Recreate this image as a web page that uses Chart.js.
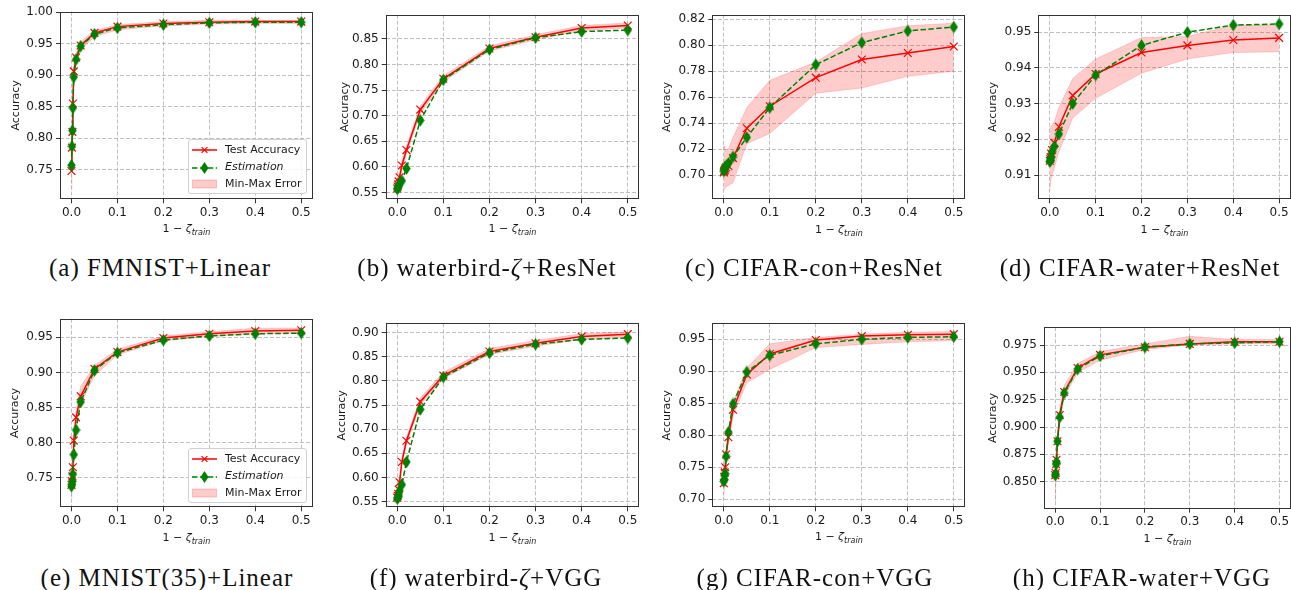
<!DOCTYPE html>
<html>
<head>
<meta charset="utf-8">
<script src="https://cdn.jsdelivr.net/npm/chart.js@4/dist/chart.umd.min.js"></script>
<style>
  html, body { margin: 0; padding: 0; background: #fff; }
  body { width: 1291px; height: 590px; position: relative; overflow: hidden; font-family: "DejaVu Sans", sans-serif; }
  canvas { position: absolute; }
  .xlab { position: absolute; font-size: 11px; line-height: 13px; color: #1a1a1a; white-space: nowrap; transform: translate(-50%, -50%); }
  .xlab i { font-style: italic; }
  .xlab sub { font-size: 8px; font-style: italic; vertical-align: -3px; }
  .cap { position: absolute; font-family: "Liberation Serif", serif; font-size: 25px; line-height: 26px; letter-spacing: 1px; color: #111; white-space: nowrap; transform: translate(-50%, -50%); }
  .legend { position: absolute; width: 117px; height: 53px; background: rgba(255,255,255,0.85); border: 1px solid #d0d0d0; border-radius: 3px; font-size: 11px; color: #1a1a1a; }
  .legend .row { position: absolute; left: 3px; height: 14px; line-height: 14px; white-space: nowrap; }
  .legend svg { position: absolute; left: 0; top: 1px; }
  .legend span { position: absolute; left: 33px; top: 0; }
</style>
</head>
<body>
<script>
// 1 - zeta_train sample points (shared by all panels)
const zeta = [0, 0.001, 0.002, 0.003, 0.005, 0.01, 0.02, 0.05, 0.1, 0.2, 0.3, 0.4, 0.5];
const xTicks = [0, 0.1, 0.2, 0.3, 0.4, 0.5];

// (a) FMNIST + Linear
const fmnistLinTest = [0.748, 0.785, 0.810, 0.855, 0.906, 0.928, 0.947, 0.967, 0.977, 0.982, 0.984, 0.985, 0.985];
const fmnistLinEst  = [0.757, 0.787, 0.812, 0.848, 0.897, 0.925, 0.946, 0.965, 0.975, 0.980, 0.983, 0.984, 0.984];
const fmnistLinMin  = [0.718, 0.775, 0.800, 0.840, 0.890, 0.918, 0.940, 0.961, 0.972, 0.978, 0.981, 0.982, 0.982];
const fmnistLinMax  = [0.760, 0.795, 0.820, 0.862, 0.913, 0.934, 0.953, 0.971, 0.980, 0.985, 0.987, 0.987, 0.987];
const fmnistLinTicks = [0.75, 0.80, 0.85, 0.90, 0.95, 1.00];

// (b) waterbird-zeta + ResNet
const wbResTest = [0.558, 0.562, 0.566, 0.572, 0.580, 0.603, 0.633, 0.712, 0.772, 0.831, 0.853, 0.871, 0.876];
const wbResEst  = [0.557, 0.559, 0.561, 0.564, 0.568, 0.573, 0.597, 0.691, 0.770, 0.829, 0.852, 0.864, 0.867];
const wbResMin  = [0.552, 0.555, 0.560, 0.566, 0.574, 0.596, 0.626, 0.704, 0.766, 0.826, 0.848, 0.866, 0.871];
const wbResMax  = [0.566, 0.570, 0.573, 0.579, 0.587, 0.610, 0.640, 0.719, 0.778, 0.836, 0.858, 0.876, 0.881];
const wbResTicks = [0.55, 0.60, 0.65, 0.70, 0.75, 0.80, 0.85];

// (c) CIFAR-con + ResNet
const cifConResTest = [0.702, 0.703, 0.704, 0.705, 0.706, 0.707, 0.713, 0.736, 0.753, 0.775, 0.789, 0.794, 0.799];
const cifConResEst  = [0.703, 0.704, 0.705, 0.706, 0.707, 0.709, 0.714, 0.729, 0.752, 0.785, 0.802, 0.811, 0.814];
const cifConResMin  = [0.688, 0.689, 0.689, 0.690, 0.691, 0.692, 0.694, 0.724, 0.732, 0.763, 0.767, 0.776, 0.780];
const cifConResMax  = [0.724, 0.722, 0.721, 0.720, 0.718, 0.720, 0.729, 0.752, 0.773, 0.787, 0.809, 0.815, 0.817];
const cifConResTicks = [0.70, 0.72, 0.74, 0.76, 0.78, 0.80, 0.82];

// (d) CIFAR-water + ResNet
const cifWatResTest = [0.9140, 0.9145, 0.9150, 0.9160, 0.9170, 0.9190, 0.9235, 0.9323, 0.9383, 0.9443, 0.9463, 0.9478, 0.9484];
const cifWatResEst  = [0.9138, 0.9140, 0.9145, 0.9150, 0.9165, 0.9180, 0.9215, 0.9300, 0.9380, 0.9463, 0.9500, 0.9520, 0.9523];
const cifWatResMin  = [0.9055, 0.9070, 0.9080, 0.9090, 0.9100, 0.9120, 0.9165, 0.9260, 0.9315, 0.9385, 0.9425, 0.9443, 0.9445];
const cifWatResMax  = [0.9230, 0.9232, 0.9235, 0.9238, 0.9240, 0.9250, 0.9290, 0.9370, 0.9425, 0.9485, 0.9488, 0.9520, 0.9520];
const cifWatResTicks = [0.91, 0.92, 0.93, 0.94, 0.95];

// (e) MNIST(35) + Linear
const mnistLinTest = [0.740, 0.745, 0.752, 0.765, 0.803, 0.836, 0.866, 0.905, 0.929, 0.949, 0.955, 0.959, 0.960];
const mnistLinEst  = [0.738, 0.741, 0.745, 0.755, 0.783, 0.818, 0.858, 0.903, 0.928, 0.946, 0.952, 0.955, 0.956];
const mnistLinMin  = [0.720, 0.735, 0.742, 0.755, 0.790, 0.825, 0.855, 0.895, 0.925, 0.945, 0.951, 0.955, 0.956];
const mnistLinMax  = [0.755, 0.758, 0.765, 0.775, 0.812, 0.845, 0.880, 0.910, 0.933, 0.952, 0.958, 0.963, 0.963];
const mnistLinTicks = [0.75, 0.80, 0.85, 0.90, 0.95];

// (f) waterbird-zeta + VGG
const wbVggTest = [0.558, 0.562, 0.566, 0.575, 0.590, 0.632, 0.676, 0.757, 0.811, 0.861, 0.878, 0.892, 0.897];
const wbVggEst  = [0.556, 0.558, 0.560, 0.563, 0.572, 0.585, 0.632, 0.741, 0.808, 0.858, 0.876, 0.886, 0.889];
const wbVggMin  = [0.555, 0.557, 0.560, 0.568, 0.583, 0.625, 0.669, 0.750, 0.805, 0.855, 0.872, 0.886, 0.891];
const wbVggMax  = [0.565, 0.568, 0.572, 0.582, 0.597, 0.639, 0.683, 0.765, 0.818, 0.867, 0.884, 0.898, 0.902];
const wbVggTicks = [0.55, 0.60, 0.65, 0.70, 0.75, 0.80, 0.85, 0.90];

// (g) CIFAR-con + VGG
const cifConVggTest = [0.725, 0.735, 0.742, 0.750, 0.770, 0.797, 0.840, 0.895, 0.927, 0.949, 0.955, 0.957, 0.958];
const cifConVggEst  = [0.728, 0.731, 0.738, 0.740, 0.767, 0.805, 0.849, 0.899, 0.925, 0.943, 0.950, 0.953, 0.954];
const cifConVggMin  = [0.700, 0.715, 0.725, 0.735, 0.755, 0.785, 0.830, 0.882, 0.903, 0.937, 0.942, 0.946, 0.948];
const cifConVggMax  = [0.740, 0.745, 0.752, 0.762, 0.780, 0.807, 0.852, 0.905, 0.943, 0.953, 0.958, 0.961, 0.962];
const cifConVggTicks = [0.70, 0.75, 0.80, 0.85, 0.90, 0.95];

// (h) CIFAR-water + VGG
const cifWatVggTest = [0.856, 0.858, 0.866, 0.870, 0.887, 0.911, 0.932, 0.954, 0.966, 0.973, 0.976, 0.978, 0.978];
const cifWatVggEst  = [0.856, 0.857, 0.866, 0.868, 0.887, 0.909, 0.931, 0.953, 0.965, 0.973, 0.976, 0.977, 0.978];
const cifWatVggMin  = [0.832, 0.845, 0.855, 0.862, 0.880, 0.903, 0.927, 0.950, 0.961, 0.971, 0.975, 0.976, 0.976];
const cifWatVggMax  = [0.862, 0.866, 0.872, 0.876, 0.893, 0.917, 0.938, 0.958, 0.969, 0.976, 0.983, 0.980, 0.980];
const cifWatVggTicks = [0.850, 0.875, 0.900, 0.925, 0.950, 0.975];

const captions = [
  '(a) FMNIST+Linear', '(b) waterbird-<i>ζ</i>+ResNet', '(c) CIFAR-con+ResNet', '(d) CIFAR-water+ResNet',
  '(e) MNIST(35)+Linear', '(f) waterbird-<i>ζ</i>+VGG', '(g) CIFAR-con+VGG', '(h) CIFAR-water+VGG'
];

// panel boxes: plot area edges, y-label centre, axis range, caption centre
const panels = [
  { test: fmnistLinTest, est: fmnistLinEst, lo: fmnistLinMin, hi: fmnistLinMax, ticks: fmnistLinTicks, dec: 2,
    ymin: 0.703, ymax: 1.001, l: 60, t: 11.5, r: 312.7, b: 199.3, titleX: 17.3, xlabY: 230, capX: 160, capY: 268, legend: 139 },
  { test: wbResTest, est: wbResEst, lo: wbResMin, hi: wbResMax, ticks: wbResTicks, dec: 2,
    ymin: 0.537, ymax: 0.897, l: 385.7, t: 14.7, r: 639.3, b: 199.3, titleX: 346, xlabY: 230, capX: 487, capY: 268 },
  { test: cifConResTest, est: cifConResEst, lo: cifConResMin, hi: cifConResMax, ticks: cifConResTicks, dec: 2,
    ymin: 0.6813, ymax: 0.8235, l: 712.3, t: 14.7, r: 965.3, b: 199.3, titleX: 668.3, xlabY: 231, capX: 814, capY: 268 },
  { test: cifWatResTest, est: cifWatResEst, lo: cifWatResMin, hi: cifWatResMax, ticks: cifWatResTicks, dec: 2,
    ymin: 0.9032, ymax: 0.9549, l: 1038.3, t: 14.7, r: 1290.6, b: 199.3, titleX: 994, xlabY: 231, capX: 1140, capY: 268 },
  { test: mnistLinTest, est: mnistLinEst, lo: mnistLinMin, hi: mnistLinMax, ticks: mnistLinTicks, dec: 2,
    ymin: 0.708, ymax: 0.9765, l: 60, t: 318.7, r: 312.7, b: 507.3, titleX: 16, xlabY: 539, capX: 167, capY: 578, legend: 448 },
  { test: wbVggTest, est: wbVggEst, lo: wbVggMin, hi: wbVggMax, ticks: wbVggTicks, dec: 2,
    ymin: 0.538, ymax: 0.9195, l: 385.7, t: 323.3, r: 639.3, b: 507.3, titleX: 342.7, xlabY: 539, capX: 486, capY: 578 },
  { test: cifConVggTest, est: cifConVggEst, lo: cifConVggMin, hi: cifConVggMax, ticks: cifConVggTicks, dec: 2,
    ymin: 0.6875, ymax: 0.975, l: 712.3, t: 323.3, r: 965.3, b: 507.3, titleX: 668.3, xlabY: 538, capX: 815, capY: 578 },
  { test: cifWatVggTest, est: cifWatVggEst, lo: cifWatVggMin, hi: cifWatVggMax, ticks: cifWatVggTicks, dec: 3,
    ymin: 0.8253, ymax: 0.9912, l: 1044, t: 327.3, r: 1290.7, b: 508.7, titleX: 994, xlabY: 540, capX: 1142, capY: 578 }
];

const RED = '#ff0000';
const GREEN = '#008000';
const BAND = 'rgba(255,0,0,0.2)';
const FONT = { family: 'DejaVu Sans', size: 11 };
const TICK_FONT = { family: 'DejaVu Sans', size: 12 };

// thin diamond marker (matplotlib 'd')
function thinDiamond() {
  const c = document.createElement('canvas');
  c.width = 9; c.height = 13;
  const g = c.getContext('2d');
  g.beginPath();
  g.moveTo(4.5, 0.3); g.lineTo(8.7, 6.5); g.lineTo(4.5, 12.7); g.lineTo(0.3, 6.5); g.closePath();
  g.fillStyle = GREEN; g.fill();
  return c;
}
const diamond = thinDiamond();

// closed box around the plot area, drawn over the data
const frame = {
  id: 'frame',
  afterDatasetsDraw(chart) {
    const a = chart.chartArea, ctx = chart.ctx;
    const x0 = Math.round(a.left) + 0.5, y0 = Math.round(a.top) + 0.5;
    const x1 = Math.round(a.right) - 0.5, y1 = Math.round(a.bottom) - 0.5;
    ctx.save();
    ctx.strokeStyle = '#333';
    ctx.lineWidth = 1;
    ctx.strokeRect(x0, y0, x1 - x0, y1 - y0);
    ctx.restore();
  }
};

function pts(ys) {
  return zeta.map((x, i) => ({ x: x, y: ys[i] }));
}

function drawPanel(p) {
  const canvasLeft = Math.floor(p.titleX - 6.6);
  const canvasTop = Math.floor(p.t - 10);
  const yW = p.l - canvasLeft;
  const padTop = p.t - canvasTop;
  const plotW = p.r - p.l, plotH = p.b - p.t;
  const W = Math.ceil(yW + plotW + 16), H = Math.ceil(padTop + plotH + 40);
  const padRight = W - yW - plotW;
  const xH = H - padTop - plotH;

  const cv = document.createElement('canvas');
  cv.width = W; cv.height = H;
  cv.style.left = canvasLeft + 'px';
  cv.style.top = canvasTop + 'px';
  cv.style.width = W + 'px';
  cv.style.height = H + 'px';
  document.body.appendChild(cv);

  const gridOpts = { color: 'rgba(176,176,176,0.8)', lineWidth: 1, tickColor: '#333', tickLength: 4, tickWidth: 1 };

  new Chart(cv, {
    type: 'line',
    data: {
      datasets: [
        { label: 'Estimation', data: pts(p.est), borderColor: GREEN, backgroundColor: GREEN, borderWidth: 1.5,
          borderDash: [5.5, 2.4], pointStyle: diamond, pointRadius: 5, tension: 0, fill: false },
        { label: 'Test Accuracy', data: pts(p.test), borderColor: RED, backgroundColor: RED, borderWidth: 1.5,
          pointStyle: 'crossRot', pointRadius: 5.5, pointBorderWidth: 1.2, pointBorderColor: RED, tension: 0, fill: false },
        { label: 'min', data: pts(p.lo), borderColor: BAND, borderWidth: 0.8, pointRadius: 0, tension: 0, fill: false },
        { label: 'Min-Max Error', data: pts(p.hi), borderColor: BAND, backgroundColor: BAND, borderWidth: 0.8,
          pointRadius: 0, tension: 0, fill: '-1' }
      ]
    },
    options: {
      responsive: false,
      maintainAspectRatio: false,
      animation: false,
      events: [],
      layout: { padding: { left: 0, top: padTop, right: padRight, bottom: 0 } },
      plugins: { legend: { display: false }, tooltip: { enabled: false } },
      scales: {
        x: {
          type: 'linear', min: -0.025, max: 0.525,
          afterBuildTicks: s => { s.ticks = xTicks.map(v => ({ value: v })); },
          afterFit: s => { s.height = xH; },
          ticks: { callback: v => v.toFixed(1), font: TICK_FONT, color: '#1a1a1a', padding: 2, maxRotation: 0, autoSkip: false },
          grid: gridOpts,
          border: { display: false, dash: [4, 2] }
        },
        y: {
          type: 'linear', min: p.ymin, max: p.ymax,
          afterBuildTicks: s => { s.ticks = p.ticks.map(v => ({ value: v })); },
          afterFit: s => { s.width = yW; },
          ticks: { callback: v => v.toFixed(p.dec), font: TICK_FONT, color: '#1a1a1a', padding: 3, autoSkip: false },
          grid: gridOpts,
          border: { display: false, dash: [4, 2] },
          title: { display: true, text: 'Accuracy', font: FONT, color: '#1a1a1a', padding: 0 }
        }
      }
    },
    plugins: [frame]
  });

  const xl = document.createElement('div');
  xl.className = 'xlab';
  xl.style.left = ((p.l + p.r) / 2) + 'px';
  xl.style.top = p.xlabY + 'px';
  xl.innerHTML = '1 − <i>ζ</i><sub>train</sub>';
  document.body.appendChild(xl);

  if (p.legend !== undefined) {
    const lg = document.createElement('div');
    lg.className = 'legend';
    lg.style.left = '188px';
    lg.style.top = p.legend + 'px';
    lg.innerHTML =
      '<div class="row" style="top:3px"><svg width="26" height="12">' +
        '<line x1="0" y1="6" x2="25" y2="6" stroke="' + RED + '" stroke-width="1.5"/>' +
        '<path d="M9.6 3.1 L15.4 8.9 M15.4 3.1 L9.6 8.9" stroke="' + RED + '" stroke-width="1.2"/></svg>' +
        '<span>Test Accuracy</span></div>' +
      '<div class="row" style="top:20px"><svg width="26" height="14">' +
        '<line x1="0" y1="7" x2="25" y2="7" stroke="' + GREEN + '" stroke-width="1.5" stroke-dasharray="5.5 2.4"/>' +
        '<path d="M12.5 1 L16.5 7 L12.5 13 L8.5 7 Z" fill="' + GREEN + '"/></svg>' +
        '<span style="font-style:italic">Estimation</span></div>' +
      '<div class="row" style="top:37px"><svg width="26" height="12">' +
        '<rect x="0.5" y="2" width="24" height="8" fill="' + BAND + '" stroke="' + BAND + '"/></svg>' +
        '<span>Min-Max Error</span></div>';
    document.body.appendChild(lg);
  }
}

panels.forEach(drawPanel);

panels.forEach((p, i) => {
  const c = document.createElement('div');
  c.className = 'cap';
  c.style.left = p.capX + 'px';
  c.style.top = p.capY + 'px';
  c.innerHTML = captions[i];
  document.body.appendChild(c);
});
</script>
</body>
</html>
